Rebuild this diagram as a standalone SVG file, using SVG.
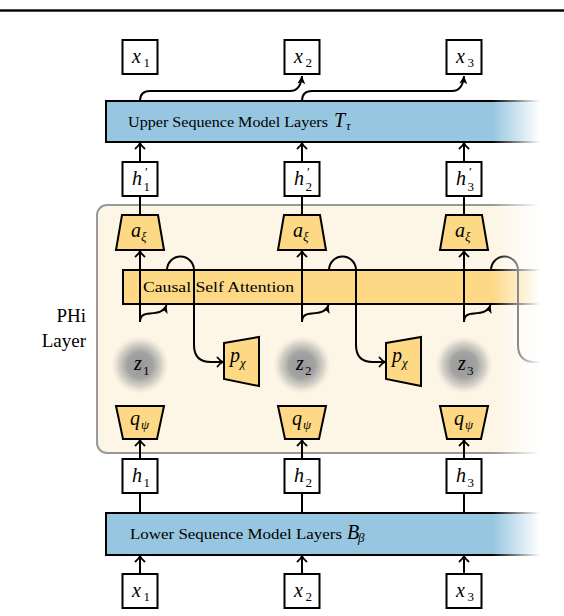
<svg xmlns="http://www.w3.org/2000/svg" width="564" height="616" viewBox="0 0 564 616">
<style>
.box{fill:#fff;stroke:#000;stroke-width:2}
.bar{fill:#97c6e1;stroke:#000;stroke-width:2}
.orn{fill:#fdd885;stroke:#000;stroke-width:2}
.ln{fill:none;stroke:#000;stroke-width:2}
text{font-family:'Liberation Serif','DejaVu Serif',serif;fill:#000}
.v{font-style:italic;font-size:20px}
.s{font-size:13px}
.si{font-style:italic;font-size:13px}
.t{font-size:15px}
.lab{font-size:19px;text-anchor:end}
</style>
<defs>
<marker id="to" viewBox="-7 -6 8 12" markerWidth="8" markerHeight="12" refX="0" refY="0" orient="auto" markerUnits="userSpaceOnUse">
<path d="M-5.5,-4.5 C-3.5,-2 -1.5,-0.6 0,0 C-1.5,0.6 -3.5,2 -5.5,4.5" fill="none" stroke="#000" stroke-width="1.8" stroke-linecap="round"/>
</marker>
<marker id="st" viewBox="-9 -5 10 10" markerWidth="10" markerHeight="10" refX="0" refY="0" orient="auto" markerUnits="userSpaceOnUse">
<path d="M0,0 L-8,-4 L-6,0 L-8,4 Z" fill="#000"/>
</marker>
<radialGradient id="zg">
<stop offset="0" stop-color="#979797"/>
<stop offset="0.45" stop-color="#a3a3a3"/>
<stop offset="0.75" stop-color="#c6c3bd" stop-opacity="0.7"/>
<stop offset="1" stop-color="#e8e2d6" stop-opacity="0"/>
</radialGradient>
<linearGradient id="fade" gradientUnits="userSpaceOnUse" x1="492" y1="0" x2="540" y2="0">
<stop offset="0" stop-color="#fff" stop-opacity="0"/>
<stop offset="1" stop-color="#fff" stop-opacity="1"/>
</linearGradient>
</defs>

<rect x="0" y="9.3" width="564" height="2.4" fill="#000"/>

<g id="phi-layer">
<rect x="97" y="205" width="470" height="248" rx="10" fill="#fdf5e5" stroke="#999" stroke-width="2"/>
<text class="lab" x="86" y="322">PHi</text>
<text class="lab" x="86" y="347">Layer</text>
</g>

<g id="z-nodes">
<g id="z1"><circle cx="140" cy="365" r="29" fill="url(#zg)"/><text class="v" x="134" y="370">z</text><text class="s" x="143" y="375">1</text></g>
<g id="z2"><circle cx="302" cy="365" r="29" fill="url(#zg)"/><text class="v" x="296" y="370">z</text><text class="s" x="305" y="375">2</text></g>
<g id="z3"><circle cx="464" cy="365" r="29" fill="url(#zg)"/><text class="v" x="458" y="370">z</text><text class="s" x="467" y="375">3</text></g>
</g>

<g id="attention">
<rect class="orn" x="123" y="270" width="445" height="34"/>
<text class="t" x="143" y="292" textLength="151" lengthAdjust="spacingAndGlyphs">Causal Self Attention</text>
</g>

<g id="upper-bar">
<rect class="bar" x="106" y="101" width="460" height="41"/>
<text class="t" x="128" y="127" textLength="200" lengthAdjust="spacingAndGlyphs">Upper Sequence Model Layers</text>
<text class="v" x="334" y="127" font-size="17">T</text><text class="si" x="346" y="130" font-size="11">τ</text>
</g>

<g id="lower-bar">
<rect class="bar" x="106" y="513" width="460" height="42"/>
<text class="t" x="130" y="539" textLength="212" lengthAdjust="spacingAndGlyphs">Lower Sequence Model Layers</text>
<text class="v" x="347" y="539" font-size="17">B</text><text class="si" x="358" y="542" font-size="11">β</text>
</g>

<g id="connectors">
<line class="ln" x1="140" y1="574" x2="140" y2="556" marker-end="url(#to)"/>
<line class="ln" x1="140" y1="513" x2="140" y2="493"/>
<line class="ln" x1="140" y1="459" x2="140" y2="440" marker-end="url(#to)"/>
<line class="ln" x1="140" y1="322" x2="140" y2="251" marker-end="url(#to)"/>
<line class="ln" x1="140" y1="215" x2="140" y2="196"/>
<line class="ln" x1="140" y1="162" x2="140" y2="143" marker-end="url(#to)"/>
<path class="ln" d="M140,322 C140,315 144,314 150,313.5 C158,313 164,312 166.5,305" marker-end="url(#st)"/>
<path class="ln" d="M167,270 A13.5,13.5 0 0 1 194,270 L194,345 Q194,362 211,362 L223,362" marker-end="url(#to)"/>
<line class="ln" x1="302" y1="574" x2="302" y2="556" marker-end="url(#to)"/>
<line class="ln" x1="302" y1="513" x2="302" y2="493"/>
<line class="ln" x1="302" y1="459" x2="302" y2="440" marker-end="url(#to)"/>
<line class="ln" x1="302" y1="322" x2="302" y2="251" marker-end="url(#to)"/>
<line class="ln" x1="302" y1="215" x2="302" y2="196"/>
<line class="ln" x1="302" y1="162" x2="302" y2="143" marker-end="url(#to)"/>
<path class="ln" d="M302,322 C302,315 306,314 312,313.5 C320,313 326,312 328.5,305" marker-end="url(#st)"/>
<path class="ln" d="M329,270 A13.5,13.5 0 0 1 356,270 L356,345 Q356,362 373,362 L385,362" marker-end="url(#to)"/>
<line class="ln" x1="464" y1="574" x2="464" y2="556" marker-end="url(#to)"/>
<line class="ln" x1="464" y1="513" x2="464" y2="493"/>
<line class="ln" x1="464" y1="459" x2="464" y2="440" marker-end="url(#to)"/>
<line class="ln" x1="464" y1="322" x2="464" y2="251" marker-end="url(#to)"/>
<line class="ln" x1="464" y1="215" x2="464" y2="196"/>
<line class="ln" x1="464" y1="162" x2="464" y2="143" marker-end="url(#to)"/>
<path class="ln" d="M464,322 C464,315 468,314 474,313.5 C482,313 488,312 490.5,305" marker-end="url(#st)"/>
<path class="ln" d="M491,270 A13.5,13.5 0 0 1 518,270 L518,345 Q518,362 535,362 L550,362"/>
<path class="ln" d="M140,101 C140,94 143,91 150,91 L290,91 C297,91 301,87 302,76" marker-end="url(#st)"/>
<path class="ln" d="M302,101 C302,94 305,91 312,91 L452,91 C459,91 463,87 464,76" marker-end="url(#st)"/>
</g>

<g id="a-nodes">
<g id="a1"><polygon class="orn" points="122,215 158,215 164,250 116,250"/><text class="v" x="131" y="237">a</text><text class="si" x="141" y="241">ξ</text></g>
<g id="a2"><polygon class="orn" points="284,215 320,215 326,250 278,250"/><text class="v" x="293" y="237">a</text><text class="si" x="303" y="241">ξ</text></g>
<g id="a3"><polygon class="orn" points="446,215 482,215 488,250 440,250"/><text class="v" x="455" y="237">a</text><text class="si" x="465" y="241">ξ</text></g>
</g>

<g id="q-nodes">
<g id="q1"><polygon class="orn" points="116,406 164,406 157,439 123,439"/><text class="v" x="130" y="425">q</text><text class="si" x="141" y="429">ψ</text></g>
<g id="q2"><polygon class="orn" points="278,406 326,406 319,439 285,439"/><text class="v" x="292" y="425">q</text><text class="si" x="303" y="429">ψ</text></g>
<g id="q3"><polygon class="orn" points="440,406 488,406 481,439 447,439"/><text class="v" x="454" y="425">q</text><text class="si" x="465" y="429">ψ</text></g>
</g>

<g id="p-nodes">
<g id="p1"><polygon class="orn" points="224,343 259,337 259,386 224,379"/><text class="v" x="230" y="362">p</text><text class="si" x="240" y="367">χ</text></g>
<g id="p2"><polygon class="orn" points="386,343 421,337 421,386 386,379"/><text class="v" x="392" y="362">p</text><text class="si" x="402" y="367">χ</text></g>
</g>

<g id="hp-nodes">
<g id="hp1"><rect class="box" x="122.5" y="162" width="35" height="34"/><text class="v" x="132" y="185">h</text><text class="s" x="145" y="176" font-size="14">′</text><text class="s" x="143.5" y="191">1</text></g>
<g id="hp2"><rect class="box" x="284.5" y="162" width="35" height="34"/><text class="v" x="294" y="185">h</text><text class="s" x="307" y="176" font-size="14">′</text><text class="s" x="305.5" y="191">2</text></g>
<g id="hp3"><rect class="box" x="446.5" y="162" width="35" height="34"/><text class="v" x="456" y="185">h</text><text class="s" x="469" y="176" font-size="14">′</text><text class="s" x="467.5" y="191">3</text></g>
</g>

<g id="h-nodes">
<g id="h1"><rect class="box" x="122.5" y="459" width="35" height="34"/><text class="v" x="132" y="482">h</text><text class="s" x="143.5" y="487">1</text></g>
<g id="h2"><rect class="box" x="284.5" y="459" width="35" height="34"/><text class="v" x="294" y="482">h</text><text class="s" x="305.5" y="487">2</text></g>
<g id="h3"><rect class="box" x="446.5" y="459" width="35" height="34"/><text class="v" x="456" y="482">h</text><text class="s" x="467.5" y="487">3</text></g>
</g>

<g id="x-top">
<g id="xo1"><rect class="box" x="122.5" y="40" width="35" height="34"/><text class="v" x="132" y="63">x</text><text class="s" x="143.5" y="67">1</text></g>
<g id="xo2"><rect class="box" x="284.5" y="40" width="35" height="34"/><text class="v" x="294" y="63">x</text><text class="s" x="305.5" y="67">2</text></g>
<g id="xo3"><rect class="box" x="446.5" y="40" width="35" height="34"/><text class="v" x="456" y="63">x</text><text class="s" x="467.5" y="67">3</text></g>
</g>

<g id="x-bottom">
<g id="xi1"><rect class="box" x="122.5" y="574" width="35" height="34"/><text class="v" x="132" y="597">x</text><text class="s" x="143.5" y="601">1</text></g>
<g id="xi2"><rect class="box" x="284.5" y="574" width="35" height="34"/><text class="v" x="294" y="597">x</text><text class="s" x="305.5" y="601">2</text></g>
<g id="xi3"><rect class="box" x="446.5" y="574" width="35" height="34"/><text class="v" x="456" y="597">x</text><text class="s" x="467.5" y="601">3</text></g>
</g>

<rect x="490" y="85" width="74" height="480" fill="url(#fade)"/>
</svg>
